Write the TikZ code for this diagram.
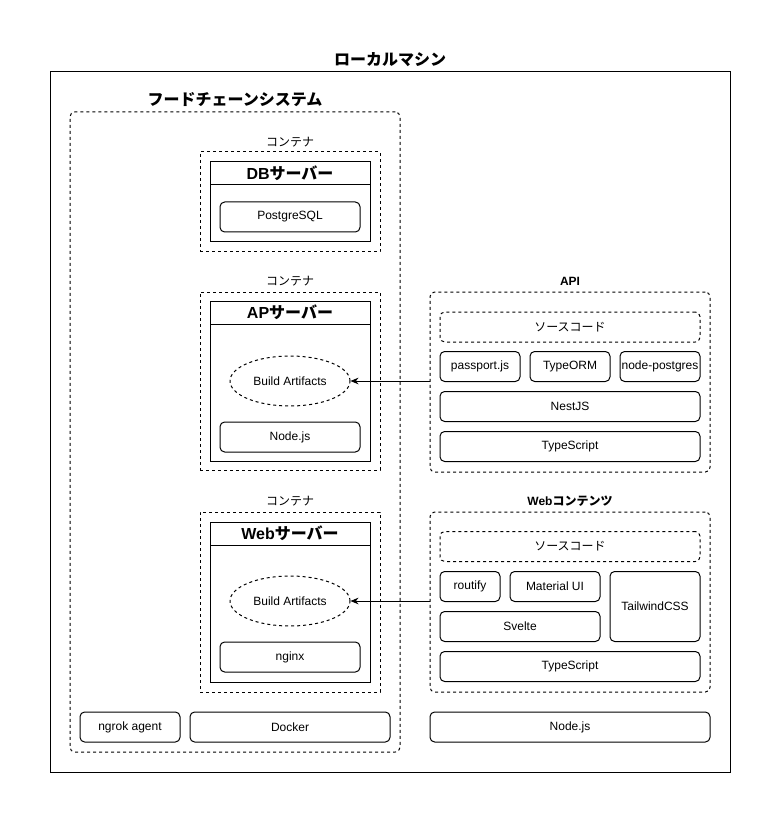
\documentclass[tikz,border=0pt]{standalone}
\usepackage{fontspec}
\setmainfont{Liberation Sans}
\newfontfamily\jp{Noto Sans CJK JP}
\usetikzlibrary{shapes.geometric,arrows.meta}
\begin{document}
\begin{tikzpicture}[x=0.75pt, y=-0.75pt,
    every node/.style={font=\fontsize{9}{11}\selectfont, inner sep=0pt},
    frame/.style={draw, line width=0.75pt, rectangle},
    dashbox/.style={draw, line width=0.75pt, rounded corners=3.5pt, dash pattern=on 2.25pt off 2.25pt},
    part/.style={draw, line width=0.75pt, rounded corners=3.5pt, minimum height=22.5pt},
    head/.style={draw, line width=0.75pt, minimum width=120pt, minimum height=17.25pt, font=\fontsize{12}{14}\selectfont\bfseries},
    title/.style={font=\fontsize{12}{14}\selectfont\bfseries},
    lbltext/.style={font=\fontsize{9}{11}\selectfont}]
    \useasboundingbox (0,0) rectangle (781,823);

    % ローカルマシン 外枠
    \node[frame, minimum width=510pt, minimum height=525pt] (machine) at (390,422) {};
    \node[title] (machinelbl) at (390,60) {\jp ローカルマシン};

    % フードチェーンシステム
    \node[dashbox, minimum width=247.5pt, minimum height=480pt] (system) at (235,432) {};
    \node[title] (systemlbl) at (235,100) {\jp フードチェーンシステム};

    % コンテナ (DB)
    \node[dashbox, rounded corners=0pt, minimum width=135pt, minimum height=75pt] (ct1) at (290,202) {};
    \node[lbltext] (ct1lbl) at (290,142) {\jp コンテナ};
    \node[frame, minimum width=120pt, minimum height=60pt] (db) at (290,202) {};
    \node[head] (dbhead) at (290,173.5) {DB{\jp サーバー}};
    \node[part, minimum width=105pt] (pg) at (290,217) {PostgreSQL};

    % コンテナ (AP)
    \node[dashbox, rounded corners=0pt, minimum width=135pt, minimum height=133.5pt] (ct2) at (290,381) {};
    \node[lbltext] (ct2lbl) at (290,281) {\jp コンテナ};
    \node[frame, minimum width=120pt, minimum height=120pt] (ap) at (290,381) {};
    \node[head] (aphead) at (290,312.5) {AP{\jp サーバー}};
    \node[ellipse, draw, line width=0.75pt, dash pattern=on 2.25pt off 2.25pt, minimum width=90pt, minimum height=37.5pt] (art1) at (290,381) {Build Artifacts};
    \node[part, minimum width=105pt] (apnode) at (290,437) {Node.js};

    % API
    \node[dashbox, minimum width=210pt, minimum height=135pt] (api) at (570,382) {};
    \node[lbltext, font=\fontsize{9}{11}\selectfont\bfseries] (apilbl) at (570,281) {API};
    \node[dashbox, minimum width=195pt, minimum height=22.5pt] (apisrc) at (570,327) {\jp ソースコード};
    \node[part, minimum width=60pt] (passport) at (480,366.5) {passport.js};
    \node[part, minimum width=60pt] (typeorm) at (570,366.5) {TypeORM};
    \node[part, minimum width=60pt] (npg) at (660,366.5) {node-postgres};
    \node[part, minimum width=195pt] (nest) at (570,406.5) {NestJS};
    \node[part, minimum width=195pt] (ts1) at (570,446.5) {TypeScript};

    % コンテナ (Web)
    \node[dashbox, rounded corners=0pt, minimum width=135pt, minimum height=135pt] (ct3) at (290,602) {};
    \node[lbltext] (ct3lbl) at (290,501) {\jp コンテナ};
    \node[frame, minimum width=120pt, minimum height=120pt] (web) at (290,602) {};
    \node[head] (webhead) at (290,533.5) {Web{\jp サーバー}};
    \node[ellipse, draw, line width=0.75pt, dash pattern=on 2.25pt off 2.25pt, minimum width=90pt, minimum height=37.5pt] (art2) at (290,601) {Build Artifacts};
    \node[part, minimum width=105pt] (nginx) at (290,657) {nginx};

    % Webコンテンツ
    \node[dashbox, minimum width=210pt, minimum height=135pt] (wc) at (570,602) {};
    \node[lbltext, font=\fontsize{9}{11}\selectfont\bfseries] (wclbl) at (570,501) {Web{\jp コンテンツ}};
    \node[dashbox, minimum width=195pt, minimum height=22.5pt] (wcsrc) at (570,546.5) {\jp ソースコード};
    \node[part, minimum width=45pt] (routify) at (470,586.5) {routify};
    \node[part, minimum width=67.5pt] (mui) at (555,586.5) {Material UI};
    \node[part, minimum width=67.5pt, minimum height=52.5pt] (tw) at (655,606.5) {TailwindCSS};
    \node[part, minimum width=120pt] (svelte) at (520,626.5) {Svelte};
    \node[part, minimum width=195pt] (ts2) at (570,666.5) {TypeScript};

    % 下段
    \node[part, minimum width=75pt] (ngrok) at (130,727) {ngrok agent};
    \node[part, minimum width=150pt] (docker) at (290,727) {Docker};
    \node[part, minimum width=210pt] (nodejs) at (570,727) {Node.js};

    % 矢印
    \draw[line width=0.75pt, -{Stealth[length=6pt,width=5pt]}] (api.west |- art1) -- (art1.east);
    \draw[line width=0.75pt, -{Stealth[length=6pt,width=5pt]}] (wc.west |- art2) -- (art2.east);
\end{tikzpicture}
\end{document}
